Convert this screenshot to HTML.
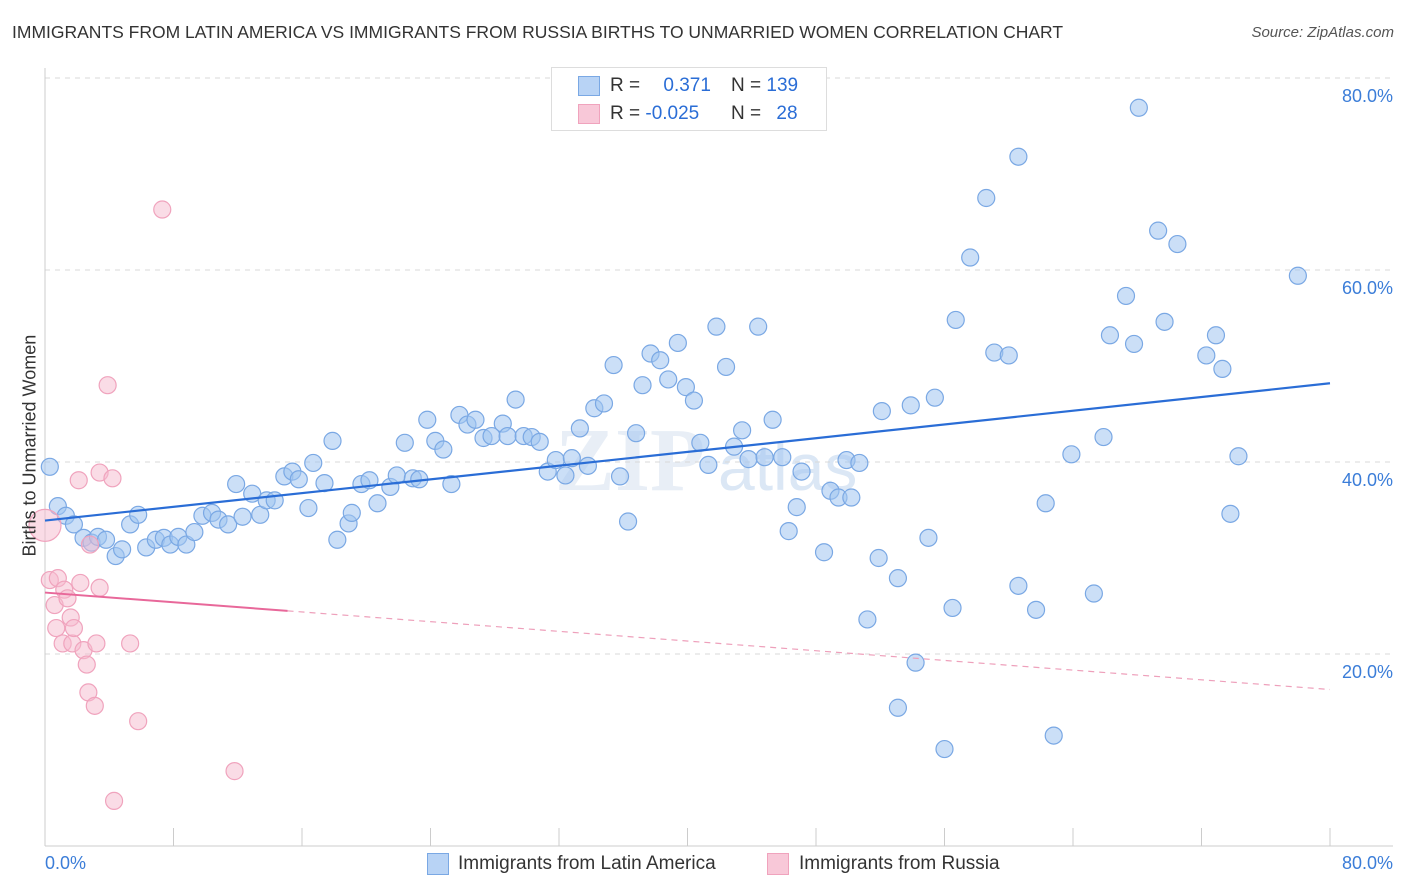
<!DOCTYPE html>
<html><head><meta charset="utf-8">
<style>
body{margin:0;background:#fff;font-family:"Liberation Sans",sans-serif;}
#wrap{position:relative;width:1406px;height:892px;overflow:hidden;}
.t{position:absolute;white-space:nowrap;}
</style></head>
<body>
<div id="wrap">
<div class="t" style="left:12px;top:22px;font-size:17.5px;color:#333;">IMMIGRANTS FROM LATIN AMERICA VS IMMIGRANTS FROM RUSSIA BIRTHS TO UNMARRIED WOMEN CORRELATION CHART</div>
<div class="t" style="right:12px;top:24px;font-size:15px;color:#555;font-style:italic;">Source: ZipAtlas.com</div>
<svg id="chart" width="1406" height="892" style="position:absolute;left:0;top:0"></svg>
</div>
<script>
const blueX=[0.3,0.8,1.3,1.8,2.4,2.9,3.3,3.8,4.4,4.8,5.3,5.8,6.3,6.9,7.4,7.8,8.3,8.8,9.3,9.8,10.4,10.8,11.4,11.9,12.3,12.9,13.4,13.8,14.3,14.9,15.4,15.8,16.4,16.7,17.4,17.9,18.2,18.9,19.1,19.7,20.2,20.7,21.5,21.9,22.4,22.9,23.3,23.8,24.3,24.8,25.3,25.8,26.3,26.8,27.3,27.8,28.5,28.8,29.3,29.8,30.3,30.8,31.3,31.8,32.4,32.8,33.3,33.8,34.2,34.8,35.4,35.8,36.3,36.8,37.2,37.7,38.3,38.8,39.4,39.9,40.4,40.8,41.3,41.8,42.4,42.9,43.4,43.8,44.4,44.8,45.3,45.9,46.8,46.3,47.1,48.5,48.9,49.4,49.9,50.2,50.7,51.9,52.1,53.1,51.2,53.1,53.9,54.2,55.0,55.4,56.0,56.5,56.7,57.6,58.6,59.1,60.0,60.6,60.6,61.7,62.3,62.8,63.9,65.3,65.9,66.3,67.3,67.8,68.1,69.3,69.7,70.5,72.3,72.9,73.3,73.8,74.3,78.0];
const blueY=[39.5,35.4,34.4,33.5,32.1,31.6,32.2,31.9,30.2,30.9,33.5,34.5,31.1,31.9,32.1,31.4,32.2,31.4,32.7,34.4,34.7,34.0,33.5,37.7,34.3,36.7,34.5,36.0,36.0,38.5,39.0,38.2,35.2,39.9,37.8,42.2,31.9,33.6,34.7,37.7,38.1,35.7,37.4,38.6,42.0,38.3,38.2,44.4,42.2,41.3,37.7,44.9,43.9,44.4,42.5,42.7,44.0,42.7,46.5,42.7,42.6,42.1,39.0,40.2,38.6,40.4,43.5,39.6,45.6,46.1,50.1,38.5,33.8,43.0,48.0,51.3,50.6,48.6,52.4,47.8,46.4,42.0,39.7,54.1,49.9,41.6,43.3,40.3,54.1,40.5,44.4,40.5,35.3,32.8,39.0,30.6,37.0,36.3,40.2,36.3,39.9,30.0,45.3,27.9,23.6,14.4,45.9,19.1,32.1,46.7,10.1,24.8,54.8,61.3,67.5,51.4,51.1,71.8,27.1,24.6,35.7,11.5,40.8,26.3,42.6,53.2,57.3,52.3,76.9,64.1,54.6,62.7,51.1,53.2,49.7,34.6,40.6,59.4];
const pinkX=[0,0.3,0.6,0.7,0.8,1.1,1.2,1.4,1.6,1.7,1.8,2.1,2.2,2.4,2.6,2.7,2.8,3.1,3.2,3.4,3.4,3.9,4.2,4.3,5.3,5.8,7.3,11.8];
const pinkY=[33.4,27.7,25.1,22.7,27.9,21.1,26.7,25.8,23.8,21.1,22.7,38.1,27.4,20.4,18.9,16.0,31.4,14.6,21.1,26.9,38.9,48.0,38.3,4.7,21.1,13.0,66.3,7.8];
const blueTrend=[33.9,48.2];   // y at x=0 and x=80
const pinkTrend=[26.4,16.3];   // y at x=0 and x=80
const pinkSolidEnd=15.1;
const yTicks=[20,40,60,80];
const yTickLabels=["20.0%","40.0%","60.0%","80.0%"];
const xTicks=[0,8,16,24,32,40,48,56,64,72,80];

const X0=45,X1=1330,Y0=846,PX=192/20;
function sx(v){return X0+(v/80)*(X1-X0);}
function sy(v){return Y0-v*PX;}
const svg=document.getElementById('chart');
const NS='http://www.w3.org/2000/svg';
function mk(tag,attrs,parent){const e=document.createElementNS(NS,tag);for(const k in attrs)e.setAttribute(k,attrs[k]);(parent||svg).appendChild(e);return e;}

// watermark
let wm=mk('text',{x:555,y:490,'font-size':90,'font-family':'Liberation Serif, serif','font-weight':'bold',fill:'#e8eef6'});
wm.textContent='ZIP';


let wm2=mk('text',{x:718,y:490,'font-size':66,'font-family':'Liberation Sans, sans-serif',fill:'#dbe7f5'});
wm2.textContent='atlas';



// gridlines & y labels
yTicks.forEach((v,i)=>{
  const g=mk('line',{x1:X0,x2:1393,y1:sy(v),y2:sy(v),stroke:'#d8d8d8','stroke-dasharray':'5,5'});
  
  
  const t=mk('text',{x:1393,y:sy(v)+24,'text-anchor':'end','font-size':18,fill:'#3b7dd8'});
  t.textContent=yTickLabels[i];
  
  
});
// axes
let ax=mk('line',{x1:X0,x2:1393,y1:Y0,y2:Y0,stroke:'#ccc'});


let ay=mk('line',{x1:X0,x2:X0,y1:68,y2:Y0,stroke:'#ccc'});


xTicks.forEach(v=>{
  const l=mk('line',{x1:sx(v),x2:sx(v),y1:828,y2:Y0,stroke:'#ccc'});
  
  
});

// points
function dots(xs,ys,fill,stroke,name,big){
  xs.forEach((x,i)=>{
    const r=(big&&i===0)?16:8.5;
    const c=mk('circle',{cx:sx(x),cy:sy(ys[i]),r:r,fill:fill,stroke:stroke,'stroke-width':1.2});
    
    
  });
}
dots(blueX,blueY,'rgba(160,196,240,0.55)','#7aa8e4','latin-america-point',false);
dots(pinkX,pinkY,'rgba(245,185,205,0.5)','#f0a3bd','russia-point',true);

// trend lines
let bt=mk('line',{x1:sx(0),y1:sy(blueTrend[0]),x2:sx(80),y2:sy(blueTrend[1]),stroke:'#2a6dd6','stroke-width':2.2});


const pm=pinkTrend[0]+(pinkTrend[1]-pinkTrend[0])*pinkSolidEnd/80;
let pt=mk('line',{x1:sx(0),y1:sy(pinkTrend[0]),x2:sx(pinkSolidEnd),y2:sy(pm),stroke:'#e8689a','stroke-width':2});


let pd=mk('line',{x1:sx(pinkSolidEnd),y1:sy(pm),x2:sx(80),y2:sy(pinkTrend[1]),stroke:'#eea0bb','stroke-width':1.2,'stroke-dasharray':'6,5'});


</script>

<div class="t" style="left:551px;top:67px;width:274px;height:62px;border:1px solid #ddd;background:#fff;">
  <div style="position:absolute;left:26px;top:8px;width:20px;height:18px;background:#b8d3f5;border:1px solid #7aa8e4;"></div>
  <div style="position:absolute;left:26px;top:36px;width:20px;height:18px;background:#f8c8d8;border:1px solid #f0a3bd;"></div>
  <div class="t" style="left:58px;top:7px;font-size:19px;color:#333;">R = <span style="color:#2a6dd6;margin-left:18px">0.371</span></div>
  <div class="t" style="left:58px;top:35px;font-size:19px;color:#333;">R = <span style="color:#2a6dd6">-0.025</span></div>
  <div class="t" style="left:179px;top:7px;font-size:19px;color:#333;">N = <span style="color:#2a6dd6">139</span></div>
  <div class="t" style="left:179px;top:35px;font-size:19px;color:#333;">N = <span style="color:#2a6dd6;margin-left:10px">28</span></div>
</div>

<div class="t" style="left:-70px;top:446px;width:200px;text-align:center;transform:rotate(-90deg);font-size:18px;color:#333;">Births to Unmarried Women</div>
<div class="t" style="left:45px;top:853px;font-size:18px;color:#3b7dd8;">0.0%</div>
<div class="t" style="right:13px;top:853px;font-size:18px;color:#3b7dd8;">80.0%</div>
<div class="t" style="left:427px;top:853px;width:20px;height:20px;background:#b8d3f5;border:1px solid #7aa8e4;"></div>
<div class="t" style="left:458px;top:853px;font-size:19px;color:#333;">Immigrants from Latin America</div>
<div class="t" style="left:767px;top:853px;width:20px;height:20px;background:#f8c8d8;border:1px solid #f0a3bd;"></div>
<div class="t" style="left:799px;top:853px;font-size:19px;color:#333;">Immigrants from Russia</div>
</body></html>
